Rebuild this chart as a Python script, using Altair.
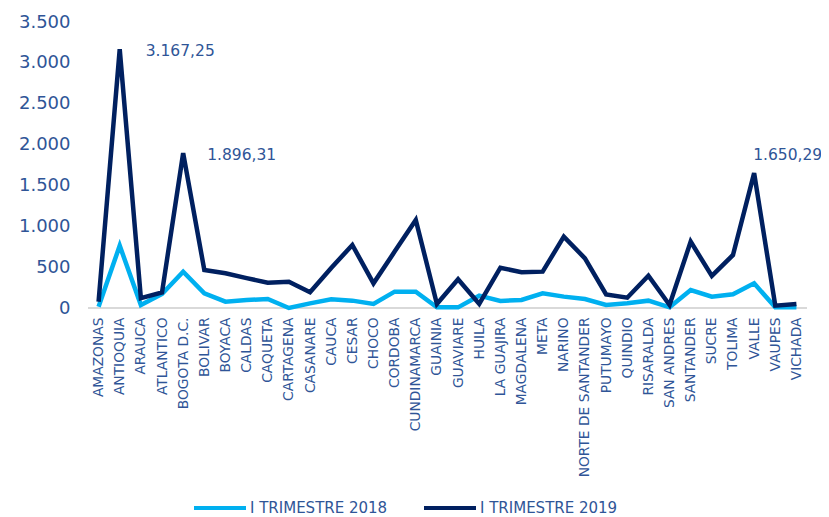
import altair as alt
import pandas as pd

categories = [
    "AMAZONAS", "ANTIOQUIA", "ARAUCA", "ATLANTICO", "BOGOTA D.C.", "BOLIVAR",
    "BOYACA", "CALDAS", "CAQUETA", "CARTAGENA", "CASANARE", "CAUCA", "CESAR",
    "CHOCO", "CORDOBA", "CUNDINAMARCA", "GUAINIA", "GUAVIARE", "HUILA",
    "LA GUAJIRA", "MAGDALENA", "META", "NARINO", "NORTE DE SANTANDER",
    "PUTUMAYO", "QUINDIO", "RISARALDA", "SAN ANDRES", "SANTANDER", "SUCRE",
    "TOLIMA", "VALLE", "VAUPES", "VICHADA",
]
values_2018 = [
    16, 763, 37, 171, 445, 180,
    77, 98, 110, 0, 57, 106, 90,
    49, 200, 200, 8, 8, 151,
    86, 98, 180, 139, 110,
    37, 57, 90, 8, 220, 139,
    167, 302, 8, 8,
]
values_2019 = [
    77, 3167.25, 120, 190, 1896.31, 465,
    425, 365, 310, 322, 192, 490, 771,
    302, 690, 1077, 49, 351, 49,
    493, 437, 445, 873, 608,
    167, 126, 395, 37, 812, 392,
    649, 1650.29, 28, 49,
]
series_names = ["I TRIMESTRE 2018", "I TRIMESTRE 2019"]
series_colors = ["#00B0F0", "#002060"]
y_ticks = [0, 500, 1000, 1500, 2000, 2500, 3000, 3500]
annot_categories = ["ANTIOQUIA", "BOGOTA D.C.", "VALLE"]
annot_labels = ["3.167,25", "1.896,31", "1.650,29"]

TEXT = "#2F5597"
FONT = "DejaVu Sans"

rows = []
for c, v in zip(categories, values_2018):
    rows.append({"cat": c, "value": v, "serie": series_names[0]})
for c, v in zip(categories, values_2019):
    rows.append({"cat": c, "value": v, "serie": series_names[1]})
df = pd.DataFrame(rows)

lookup = dict(zip(categories, values_2019))
ann = pd.DataFrame({
    "cat": annot_categories,
    "value": [lookup[c] for c in annot_categories],
    "label": annot_labels,
})

x_enc = alt.X("cat:N", sort=categories, title=None,
              axis=alt.Axis(labelAngle=270, labelFontSize=13.8, labelColor=TEXT,
                            labelFont=FONT, ticks=False, domain=False,
                            labelPadding=9, labelLimit=300))
y_scale = alt.Scale(domain=[0, 3500], nice=False)
y_enc = alt.Y("value:Q", scale=y_scale, title=None,
              axis=alt.Axis(values=y_ticks, grid=False, ticks=False, domain=False,
                            labelFontSize=18, labelColor=TEXT, labelFont=FONT,
                            labelPadding=18,
                            labelExpr="replace(format(datum.value, ','), ',', '.')"))

base_rule = alt.Chart(pd.DataFrame({"v": [0]})).mark_rule(
    color="#D9D9D9", strokeWidth=2
).encode(y=alt.Y("v:Q", scale=y_scale))

lines = alt.Chart(df).mark_line(strokeWidth=4.5, strokeJoin="miter").encode(
    x=x_enc,
    y=y_enc,
    color=alt.Color("serie:N", scale=alt.Scale(domain=series_names, range=series_colors),
                    legend=alt.Legend(title=None, orient="none", direction="horizontal",
                                      legendX=104, legendY=458,
                                      symbolType="stroke", symbolStrokeWidth=4,
                                      symbolSize=2704, labelFontSize=15,
                                      labelColor=TEXT, labelFont=FONT,
                                      labelOffset=2, columnPadding=28, padding=0)),
)

def ann_layer(cat, dx, dy):
    return alt.Chart(ann[ann["cat"] == cat]).mark_text(
        align="left", baseline="middle", dx=dx, dy=dy, fontSize=15.5,
        font=FONT, color=TEXT
    ).encode(x=alt.X("cat:N", sort=categories), y=alt.Y("value:Q", scale=y_scale),
             text="label:N")

chart = alt.layer(
    base_rule, lines,
    ann_layer("ANTIOQUIA", 26, 2),
    ann_layer("BOGOTA D.C.", 24, 2),
    ann_layer("VALLE", -1, -18),
).properties(
    width=719, height=286,
    autosize=alt.AutoSizeParams(type="none"),
    padding={"left": 80, "top": 14, "right": 14, "bottom": 209},
).configure_view(stroke=None)

chart.save("out.html", embed_options={"renderer": "svg", "actions": False})
